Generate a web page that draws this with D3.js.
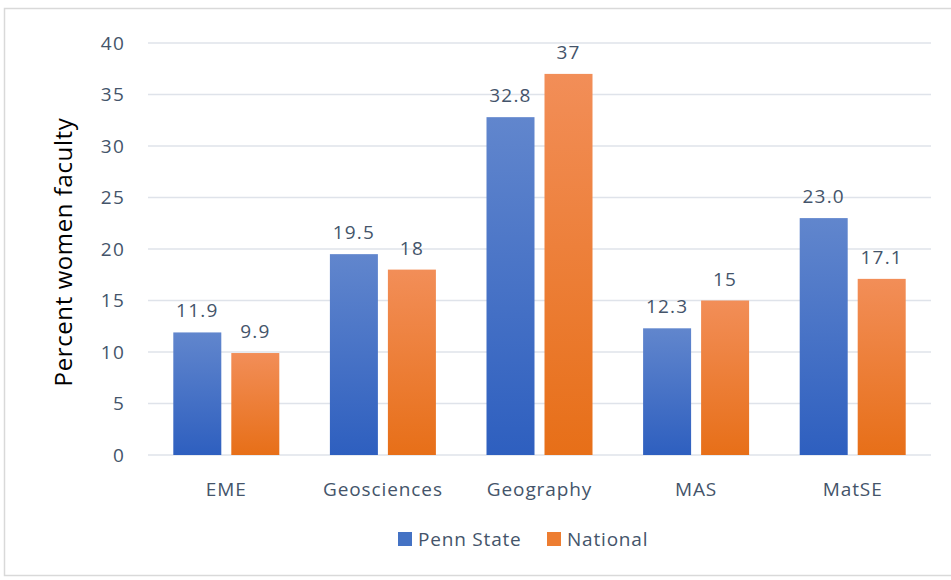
<!DOCTYPE html>
<html><head><meta charset="utf-8">
<script src="https://cdn.jsdelivr.net/npm/d3@7"></script>
<style>body{margin:0;background:#fff}</style>
</head><body><svg id="c" width="951" height="580"></svg>
<script>
const categories = ["EME","Geosciences","Geography","MAS","MatSE"];
const seriesNames = ["Penn State","National"];
const pennState = [11.9, 19.5, 32.8, 12.3, 23.0];
const national = [9.9, 18, 37, 15, 17.1];
const pennLabels = ["11.9","19.5","32.8","12.3","23.0"];
const nationalLabels = ["9.9","18","37","15","17.1"];
const yTicks = [0,5,10,15,20,25,30,35,40];

const svg = d3.select("#c");
const font = "'Open Sans', sans-serif";
const txt = "#44546a";

const defs = svg.append("defs");
function grad(id, top, bot){
  const g = defs.append("linearGradient").attr("id",id).attr("x1",0).attr("y1",0).attr("x2",0).attr("y2",1);
  g.append("stop").attr("offset","0%").attr("stop-color",top);
  g.append("stop").attr("offset","100%").attr("stop-color",bot);
}
grad("gb","#6186cd","#2e5fbf");
grad("go","#f28e58","#e76f18");

svg.append("rect").attr("x",4.5).attr("y",8.5).attr("width",960).attr("height",567)
  .attr("fill","#fff").attr("stroke","#d9d9d9").attr("stroke-width",1.5);

const x = d3.scaleBand().domain(categories).range([148,931]);
const y = d3.scaleLinear().domain([0,40]).range([455,43]);

const grid = svg.append("g");
yTicks.forEach(t=>{
  grid.append("line").attr("x1",148).attr("x2",931).attr("y1",y(t)).attr("y2",y(t))
    .attr("stroke","#dfe3ea").attr("stroke-width",1.5);
  svg.append("text").attr("x",125).attr("y",y(t)).attr("dy","0.35em").attr("text-anchor","end")
    .attr("font-family",font).attr("font-size",19).attr("letter-spacing",1.2).attr("fill",txt).text(t);
});

const bw = 48, gap = 10;
const series = [{vals:pennState,labels:pennLabels,fill:"url(#gb)"},{vals:national,labels:nationalLabels,fill:"url(#go)"}];
series.forEach((s,si)=>{
  categories.forEach((c,i)=>{
    const cx = x(c)+x.bandwidth()/2;
    const bx = si===0 ? cx - gap/2 - bw : cx + gap/2;
    svg.append("rect").attr("x",bx).attr("y",y(s.vals[i])).attr("width",bw).attr("height",y(0)-y(s.vals[i]))
      .attr("fill",s.fill);
    svg.append("text").attr("x",bx+bw/2).attr("y",y(s.vals[i])-15).attr("text-anchor","middle")
      .attr("font-family",font).attr("font-size",19).attr("letter-spacing",1.2).attr("fill",txt).text(s.labels[i]);
  });
});

categories.forEach(c=>{
  svg.append("text").attr("x",x(c)+x.bandwidth()/2).attr("y",496).attr("text-anchor","middle")
    .attr("font-family",font).attr("font-size",19).attr("letter-spacing",0.9).attr("fill",txt).text(c);
});

svg.append("text").attr("transform","translate(72,252) rotate(-90)").attr("text-anchor","middle")
  .attr("font-family",font).attr("font-size",24).attr("letter-spacing",0.6).attr("fill","#000").text("Percent women faculty");

const leg = [{x:398,fill:"#4472c4",name:seriesNames[0]},{x:547,fill:"#ed7d31",name:seriesNames[1]}];
leg.forEach(l=>{
  svg.append("rect").attr("x",l.x).attr("y",532).attr("width",14).attr("height",14).attr("fill",l.fill);
  svg.append("text").attr("x",l.x+20).attr("y",539).attr("dy","0.35em")
    .attr("font-family",font).attr("font-size",19).attr("letter-spacing",0.8).attr("fill",txt).text(l.name);
});
</script></body></html>
